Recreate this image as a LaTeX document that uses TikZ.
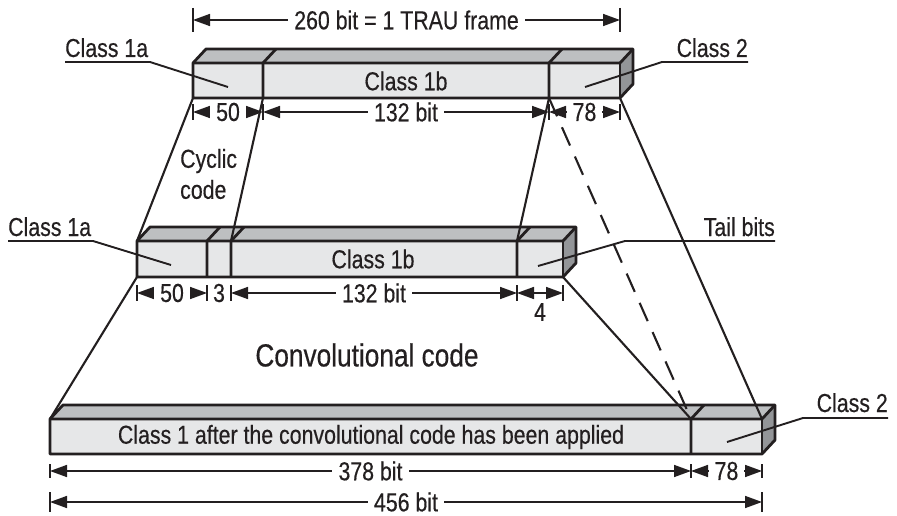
\documentclass[tikz,border=0pt]{standalone}
\usepackage{fontspec}
\setmainfont[FakeStretch=0.82,FakeBold=0.4]{Liberation Sans}
\usetikzlibrary{arrows.meta}
\definecolor{frontc}{HTML}{E6E7E8}
\definecolor{topc}{HTML}{BDBFC1}
\definecolor{sidec}{HTML}{939598}
\definecolor{ink}{HTML}{231F20}
\newcommand{\gsmbar}[4]{%
  \fill[frontc] (#1,#3) rectangle (#2,#4);
  \fill[topc] (#1,#3) -- (#1+13,#3-14) -- (#2+13,#3-14) -- (#2,#3) -- cycle;
  \fill[sidec] (#2,#3) -- (#2+13,#3-14) -- (#2+13,#4-14) -- (#2,#4) -- cycle;
  \draw[barline] (#1,#4) -- (#1,#3) -- (#1+13,#3-14) -- (#2+13,#3-14) -- (#2+13,#4-14) -- (#2,#4) -- cycle;
  \draw[barline] (#1,#3) -- (#2,#3) -- (#2+13,#3-14);
  \draw[barline] (#2,#3) -- (#2,#4);
}
\newcommand{\gsmdiv}[3]{%
  \draw[barline] (#1,#3) -- (#1,#2) -- (#1+13,#2-14);
}
\begin{document}
\begin{tikzpicture}[x=1pt,y=-1pt,
  every node/.style={font=\fontsize{26}{31}\selectfont, text=ink, inner sep=0pt},
  barline/.style={draw=ink, line width=2.8pt, line join=round},
  conn/.style={draw=ink, line width=2.1pt},
  leader/.style={draw=ink, line width=1.9pt},
  dim/.style={draw=ink, line width=1.6pt, {Triangle[length=17pt,width=12pt]}-{Triangle[length=17pt,width=12pt]}},
  ticks/.style={draw=ink, line width=1.7pt},
  dimlabel/.style={fill=white, inner xsep=6pt, inner ysep=0pt}]
\fill[white] (0,0) rectangle (897,516);
\useasboundingbox (0,0) rectangle (897,516);

% ---- bars
\gsmbar{193}{620}{63}{98}
\gsmdiv{263}{63}{98}
\gsmdiv{549}{63}{98}
\gsmbar{137}{563}{241}{277}
\gsmdiv{207}{241}{277}
\gsmdiv{231}{241}{277}
\gsmdiv{517}{241}{277}
\gsmbar{50}{762}{419}{454}
\gsmdiv{691}{419}{454}

\node (t1b) at (406,81) {Class 1b};
\node (m1b) at (373,259) {Class 1b};
\node (b1) at (371,437) {Class 1 after the convolutional code has been applied};

% ---- corner coordinates
\coordinate (TA) at (193,98);
\coordinate (TB) at (263,98);
\coordinate (TC) at (549,98);
\coordinate (TD) at (620,98);
\coordinate (MA) at (137,241);
\coordinate (MB) at (231,241);
\coordinate (MC) at (517,241);
\coordinate (MA2) at (137,277);
\coordinate (MD2) at (563,277);
\coordinate (BA) at (50,419);
\coordinate (BC) at (691,419);
\coordinate (BD) at (762,419);

% ---- dimensions top
\draw[ticks] (193,8) -- (193,32) (620,8) -- (620,32);
\draw[dim] (193,20) -- (620,20) node[midway,dimlabel] (dtrau) {260 bit = 1 TRAU frame};
\draw[ticks] (193,104) -- (193,120) (263,104) -- (263,120) (549,104) -- (549,120) (620,104) -- (620,120);
\draw[dim] (193,112) -- (263,112) node[midway,dimlabel] (d50a) {50};
\draw[dim] (263,112) -- (549,112) node[midway,dimlabel] (d132a) {132 bit};
\draw[dim] (549,112) -- (620,112) node[midway,dimlabel] (d78a) {78};

% ---- dimensions middle
\draw[ticks] (137,285) -- (137,301) (207,285) -- (207,301) (231,285) -- (231,301) (517,285) -- (517,301) (563,285) -- (563,301);
\draw[dim] (137,293) -- (207,293) node[midway,dimlabel] (d50b) {50};
\node (d3) at (219,293) {3};
\draw[dim] (231,293) -- (517,293) node[midway,dimlabel] (d132b) {132 bit};
\draw[dim] (517,293) -- (563,293);
\node (d4) at (540,312) {4};

% ---- dimensions bottom
\draw[ticks] (50,464) -- (50,478) (691,464) -- (691,478) (762,464) -- (762,478);
\draw[dim] (50,471) -- (691,471) node[midway,dimlabel] (d378) {378 bit};
\draw[dim] (691,471) -- (762,471) node[midway,dimlabel] (d78b) {78};
\draw[ticks] (50,492) -- (50,512) (762,492) -- (762,512);
\draw[dim] (50,502) -- (762,502) node[midway,dimlabel] (d456) {456 bit};

% ---- connectors
\draw[conn] (TA) -- (MA);
\draw[conn] (TB) -- (MB);
\draw[conn] (TC) -- (MC);
\draw[conn] (TD) -- (BD);
\draw[conn, dash pattern=on 20pt off 12pt] (TC) -- (BC);
\draw[conn] (MA2) -- (BA);
\draw[conn] (MD2) -- (BC);

% ---- free texts
\node[anchor=west, align=left] (cyc) at (180,174) {Cyclic\\code};
\node[font=\fontsize{32}{38}\selectfont] (conv) at (367,355) {Convolutional code};

% ---- labels with leaders
\node[anchor=base west] (l1a) at (65,57) {Class 1a};
\draw[leader] (65,62) -- (150,62) -- (228,87);
\node[anchor=base east] (l2a) at (748,57) {Class 2};
\draw[leader] (748,62) -- (662,62) -- (585,87);
\node[anchor=base west] (l1am) at (8,236) {Class 1a};
\draw[leader] (8,241) -- (93,241) -- (171,265);
\node[anchor=base east] (ltail) at (775,236) {Tail bits};
\draw[leader] (775,241) -- (625,241) -- (538,266);
\node[anchor=base east] (l2b) at (888,412) {Class 2};
\draw[leader] (888,418) -- (803,418) -- (727,442);
\end{tikzpicture}
\end{document}
